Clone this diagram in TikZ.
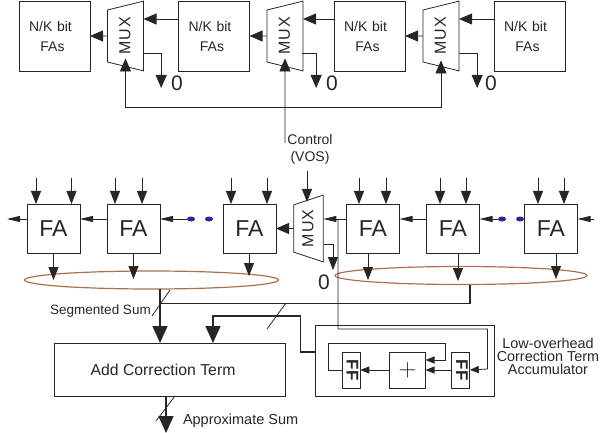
\documentclass[tikz,border=0pt]{standalone}
\usepackage{fontspec}
\setmainfont{Liberation Sans}
\usetikzlibrary{arrows.meta}
\usetikzlibrary{shapes.geometric}
\definecolor{ringbrown}{RGB}{172,112,76}
\definecolor{dotblue}{RGB}{40,40,150}
\newcommand{\fsz}[1]{\fontsize{#1}{#1}\selectfont}
\newcommand{\nkbit}{\hspace*{-8pt}N/K bit\\[6pt]\hspace*{-4pt}FAs}
\newcommand{\muxtxt}{\raisebox{1.5pt}{M\kern1pt U\kern1pt X}}

\begin{document}
\begin{tikzpicture}[
        x=1pt, y=-1pt, line width=0.8pt, color=black!85,
        every node/.style={inner sep=0pt,outer sep=0pt},
        nkbox/.style={draw,align=center,font=\fsz{14},text width=60pt,minimum width=71pt,minimum height=70pt},
        fabox/.style={draw,font=\fsz{23},minimum width=53pt,minimum height=49pt},
        muxtop/.style={draw,trapezium,trapezium stretches=true,trapezium left angle=63,trapezium right angle=63,
          rotate=90,minimum width=70pt,minimum height=36pt,font=\fsz{16}},
        muxlow/.style={draw,trapezium,trapezium stretches=true,trapezium left angle=58,trapezium right angle=58,
          rotate=90,minimum width=67pt,minimum height=29.5pt,font=\fsz{16}},
        ffbox/.style={draw,rotate=-90,font=\fsz{17}\bfseries,minimum width=36pt,minimum height=18pt},
        zero/.style={font=\fsz{21}},
        sumring/.style={draw=ringbrown,line width=1.2pt,ellipse,minimum height=18pt},
        bluedot/.style={fill=dotblue,ellipse,minimum width=8pt,minimum height=5pt},
        arr/.style={-{Triangle[length=13pt,width=11pt]}},
        flat/.style={-{Triangle[length=13pt,width=6pt]}},
        inarr/.style={-{Triangle[length=13pt,width=10pt]}},
        small/.style={-{Triangle[length=9pt,width=7pt]}},
        big/.style={line width=1.4pt,-{Triangle[length=17pt,width=15pt]}},
        bus/.style={line width=1.4pt}
        ]
        \useasboundingbox (0,0) rectangle (600,433);
        % upper adder
        \node[nkbox] (nk1) at (54.5,36) {\nkbit};
        \node[nkbox] (nk2) at (214,36) {\nkbit};
        \node[nkbox] (nk3) at (369.5,36) {\nkbit};
        \node[nkbox] (nk4) at (529.5,36) {\nkbit};
        \node[muxtop] (m1) at (125.5,36) {\muxtxt};
        \node[muxtop] (m2) at (285,36) {\muxtxt};
        \node[muxtop] (m3) at (441,36) {\muxtxt};
        \node[zero] (z1) at (177,83) {0};
        \node[zero] (z2) at (332,83) {0};
        \node[zero] (z3) at (491,83) {0};
        \draw[arr] ([yshift=17pt]nk2.west) -- ([yshift=17pt]nk2.west -| m1.south);
        \draw[arr] ([yshift=17pt]nk3.west) -- ([yshift=17pt]nk3.west -| m2.south);
        \draw[arr] ([yshift=17pt]nk4.west) -- ([yshift=17pt]nk4.west -| m3.south);
        \draw[arr] (m1.north) -- (nk1.east);
        \draw[arr] (m2.north) -- (nk2.east);
        \draw[arr] (m3.north) -- (nk3.east);
        \draw[arr] ([xshift=18pt,yshift=-17pt]m1.center) -| ([xshift=-10pt,yshift=-5pt]z1.west);
        \draw[arr] ([xshift=17pt,yshift=-17pt]m2.center) -| ([xshift=-10pt,yshift=-5pt]z2.west);
        \draw[arr] ([xshift=18pt,yshift=-17pt]m3.center) -| ([xshift=-8pt,yshift=-5pt]z3.west);
        % control bus
        \coordinate (busm) at (285,107);
        \coordinate (ctrlt) at (284,143);
        \coordinate (m1tip) at ([yshift=8pt]m1.west);
        \coordinate (m2tip) at ([yshift=8pt]m2.west);
        \coordinate (m3tip) at ([yshift=6pt]m3.west);
        \node[font=\fsz{14},align=center] (ctrl) at (310,149.5) {Control\\[3pt](VOS)};
        \draw[arr] (busm) -| (m1tip);
        \draw[arr] (busm) -| (m3tip);
        \draw[arr] (ctrlt -| busm) -- (m2tip);
        % lower adder
        \node[fabox] (f1) at (53.5,228.5) {FA};
        \node[fabox] (f2) at (133.5,228.5) {FA};
        \node[fabox] (f3) at (249.5,228.5) {FA};
        \node[muxlow] (m4) at (308.5,228.5) {\muxtxt};
        \node[fabox] (f4) at (373,228.5) {FA};
        \node[fabox] (f5) at (453,228.5) {FA};
        \node[fabox] (f6) at (551,228.5) {FA};
        \node[bluedot] (d1) at (191,219) {};
        \node[bluedot] (d2) at (209,219) {};
        \node[bluedot] (d3) at (502,219) {};
        \node[bluedot] (d4) at (520,219) {};
        \node[zero] (z4) at (324,282) {0};
        % carry chain
        \coordinate (cout) at (7,219);
        \coordinate (cin) at (594,219);
        \coordinate (z4tip) at (333,270);
        \draw[flat] ([yshift=9.5pt]f1.west) -- (cout);
        \draw[flat] ([yshift=9.5pt]f2.west) -- ([yshift=9.5pt]f1.east);
        \draw[flat] (d1.west) -- ([yshift=9.5pt]f2.east);
        \draw[arr] (m4.north) -- (f3.east);
        \draw[flat] ([yshift=9.5pt]f4.west) -- ([yshift=9.5pt]f4.west -| m4.south);
        \draw[flat] ([yshift=9.5pt]f5.west) -- ([yshift=9.5pt]f4.east);
        \draw[flat] (d3.west) -- ([yshift=9.5pt]f5.east);
        \draw[flat] (cin) -- ([yshift=9.5pt]f6.east);
        % inputs
        \foreach \f/\a/\b in {f1/-17.5/18,f2/-18.5/8.5,f3/-18.5/17.5,f4/-14/13,f5/-13/13,f6/-13/13}{
          \draw[inarr] ([xshift=\a pt,yshift=26pt]\f.north) -- ([xshift=\a pt]\f.north);
          \draw[inarr] ([xshift=\b pt,yshift=26pt]\f.north) -- ([xshift=\b pt]\f.north);
        }
        \coordinate (vos) at (307,171);
        \draw[inarr] (vos) -- (vos |- 0,202);
        % mux zero output
        \draw[inarr] ([xshift=15pt,yshift=-15.5pt]m4.center) -| (z4tip);
        % sum rings
        \node[sumring,minimum width=254pt] (e1) at (151.5,280) {};
        \node[sumring,minimum width=252pt] (e2) at (461,275.5) {};
        \draw[inarr] (f1.south) -- ([yshift=-27pt]f1.south);
        \draw[inarr] (f2.south) -- ([yshift=-26pt]f2.south);
        \draw[inarr] ([xshift=-0.5pt]f3.south) -- ([xshift=-0.5pt,yshift=-23pt]f3.south);
        \draw[inarr] ([xshift=-5pt]f4.south) -- ([xshift=-5pt,yshift=-27pt]f4.south);
        \draw[inarr] ([xshift=5pt]f5.south) -- ([xshift=5pt,yshift=-28pt]f5.south);
        \draw[inarr] ([xshift=5pt]f6.south) -- ([xshift=5pt,yshift=-26pt]f6.south);
        % correction
        \node[draw,font=\fsz{15.8},minimum width=231pt,minimum height=53pt] (add) at (169.5,369.5) {\hspace*{-13pt}Add Correction Term};
        \node[draw,minimum width=179pt,minimum height=71.5pt] (acc) at (404.5,360.75) {};
        \node[ffbox] (ff1) at (351.25,370) {\raisebox{2.5pt}{FF}};
        \node[draw,minimum width=36pt,minimum height=36pt,font=\fsz{30}] (pl) at (407.5,370) {$+$};
        \node[ffbox] (ff2) at (460.75,370) {\raisebox{2.5pt}{FF}};
        \node[font=\fsz{14.4},align=center] (acclbl) at (548,356) {Low-overhead\\[-1.4pt]Correction Term\\[-1.4pt]Accumulator};
        \node[font=\fsz{13.5}] (seg) at (100.5,311) {Segmented Sum};
        \node[font=\fsz{14.5},anchor=west] (appr) at (183,421) {Approximate Sum};
        \coordinate (sumj) at (160,303.5);
        \coordinate (corrj) at (213,316);
        \coordinate (accout) at (300.5,352);
        \coordinate (outend) at (166,433);
        \draw[big] (sumj |- e1.south) -- (sumj |- add.north);
        \draw[bus] (e2.south -| 470,0) -- (470,303.5) -- (sumj);
        \draw[big] (acc.west |- accout) -- (accout) -- (accout |- corrj) -- (corrj) -- (corrj |- add.north);
        \draw[big] (outend |- add.south) -- (outend);
        \draw (152,316) -- (170,290);
        \draw (267,329) -- (286,303);
        \draw (156,421) -- (175,396);
        % accumulator
        \draw[small] (338,219) -- (338,329) -- (487.5,329) -- (487.5,369) -- (ff2.north);
        \draw[small] (ff1.south) -- (328,370) -- (328,343) -- (445,343) -- (445,360) -- (pl.east |- 0,360);
        \draw[small] (ff2.south) -- (pl.east);
        \draw[small] (pl.west) -- (ff1.north);
\end{tikzpicture}
\end{document}
